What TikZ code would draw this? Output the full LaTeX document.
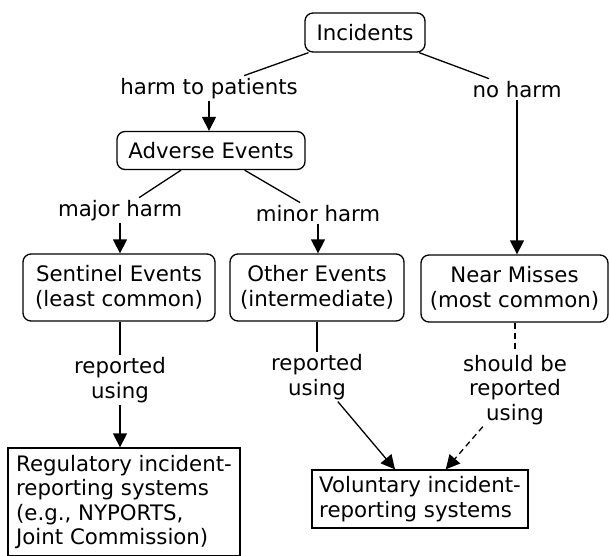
\documentclass[tikz,border=0pt]{standalone}
\usepackage{fontspec}
\setmainfont{DejaVu Sans}
\usetikzlibrary{arrows.meta}

\tikzset{
  box/.style={draw, rounded corners=8pt, line width=1.3pt, align=center, inner sep=0pt},
  plainbox/.style={draw, line width=1.3pt, align=left, inner sep=0pt},
  lbl/.style={align=center, inner sep=2pt},
  link/.style={line width=1.3pt},
  arr/.style={link, -{Triangle[length=14pt,width=14pt]}},
  dashlink/.style={dash pattern=on 6pt off 4pt},
}

\begin{document}
\begin{tikzpicture}[x=1pt, y=-1pt, font=\fontsize{21.3}{24.5}\selectfont]
\fill[white] (0,0) rectangle (610,555);
\useasboundingbox (0,0) rectangle (610,555);

% concept boxes
\node[box, minimum width=120pt, minimum height=39pt] (inc) at (365,32.5) {Incidents};
\node[box, minimum width=188pt, minimum height=38pt] (adv) at (211,150.5) {Adverse Events};
\node[box, minimum width=192pt, minimum height=67pt] (sen) at (119,287.5) {Sentinel Events\\(least common)};
\node[box, minimum width=174pt, minimum height=67pt] (oth) at (317,287.5) {Other Events\\(intermediate)};
\node[box, minimum width=187pt, minimum height=67pt] (near) at (514.5,288.5) {Near Misses\\(most common)};
\node[plainbox, minimum width=232pt, minimum height=108pt] (reg) at (124,502)
  {Regulatory incident-\\reporting systems\\(e.g., NYPORTS,\\Joint Commission)};
\node[plainbox, minimum width=216pt, minimum height=58pt] (vol) at (420,499)
  {Voluntary incident-\\reporting systems};

% link phrases (base anchor = baseline of the last line)
\node[lbl, anchor=base] (hp) at (209,94) {harm to patients};
\node[lbl, anchor=base] (nh) at (517,97) {no harm};
\node[lbl, anchor=base] (mj) at (120,216) {major harm};
\node[lbl, anchor=base] (mn) at (318,221) {minor harm};
\node[lbl, anchor=base] (ru1) at (120,398) {reported\\using};
\node[lbl, anchor=base] (ru2) at (317,395) {reported\\using};
\node[lbl, anchor=base] (ru3) at (515,420) {should be\\reported\\using};

% connectors
\draw[link] (inc) -- (hp);
\draw[link] (inc) -- (nh);
\draw[arr] (hp.south) -- (hp.south |- adv.north);
\draw[arr] (nh.south) -- (nh.south |- near.north);
\draw[link] (adv) -- (mj);
\draw[link] (adv) -- (mn);
\draw[arr] (mj.south) -- (mj.south |- sen.north);
\draw[arr] (mn.south) -- (mn.south |- oth.north);
\draw[link] (ru1.north |- sen.south) -- (ru1.north);
\draw[link] (ru2.north |- oth.south) -- (ru2.north);
\draw[link, dashlink] (ru3.north |- near.south) -- (ru3.north);
\draw[arr] (ru1.south) -- (ru1.south |- reg.north);
\draw[arr] (ru2) -- (vol);
\draw[arr, dashlink] (ru3) -- (vol);
\end{tikzpicture}
\end{document}
